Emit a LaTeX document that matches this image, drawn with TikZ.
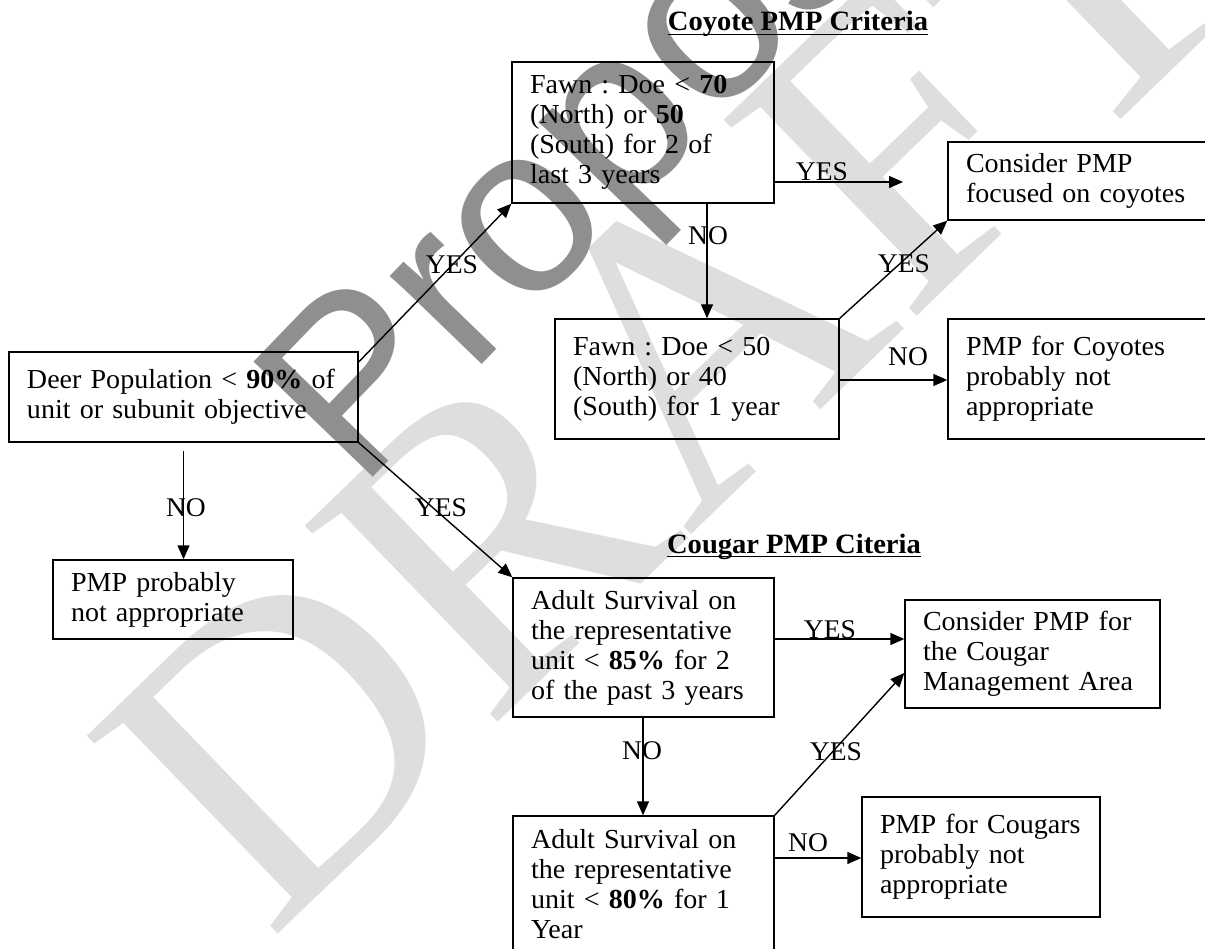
\documentclass[tikz,border=0pt]{standalone}
\usepackage{fontspec}
\setmainfont{Liberation Serif}[FakeStretch=1.02]
\newfontfamily\wmsans{Liberation Sans}
\newfontfamily\wmserif{Liberation Serif}
\usetikzlibrary{arrows.meta}
\definecolor{wmdark}{HTML}{8F8F8F}
\definecolor{wmlight}{HTML}{DEDEDE}
\tikzset{
  box/.style={draw=black, line width=1.4pt, align=left, inner xsep=18pt, inner ysep=0pt,
    font=\fontsize{27.5}{30}\selectfont\frenchspacing, anchor=center},
  lbl/.style={font=\fontsize{27}{30}\selectfont, inner sep=0pt},
  ttl/.style={font=\fontsize{28}{30}\selectfont\bfseries, inner sep=0pt, anchor=base},
  arr/.style={line width=1.4pt, -{Triangle[length=14pt, width=12pt]}}
}
\begin{document}
\begin{tikzpicture}[x=1pt, y=-1pt]
\useasboundingbox (0,0) rectangle (1205,949);
% watermark
\node[rotate=44, anchor=base west, inner sep=0pt, text=wmlight, font=\fontsize{420}{420}\wmserif] (wm2) at (269,943) {DRAFT};
\node[rotate=46, anchor=base west, inner sep=0pt, text=wmdark, font=\fontsize{241}{241}\wmsans] (wm1) at (359,492) {Proposed};
% titles
\node[ttl] (t1) at (798,31) {Coyote PMP Criteria};
\draw[line width=1.8pt] ([yshift=-3.5pt]t1.base west) -- ([yshift=-3.5pt]t1.base east);
\node[ttl] (t2) at (794,553) {Cougar PMP Citeria};
\draw[line width=1.8pt] ([yshift=-3.5pt]t2.base west) -- ([yshift=-3.5pt]t2.base east);
% boxes
\node[box, minimum width=349pt, minimum height=90pt, text width=313pt] (D) at (183.5,397)
  {Deer Population < \textbf{90\%} of\\unit or subunit objective};
\node[box, minimum width=240pt, minimum height=79pt, text width=204pt] (P1) at (173,599.5)
  {PMP probably\\not appropriate};
\node[box, minimum width=262pt, minimum height=141pt, text width=226pt] (F1) at (643,132.5)
  {Fawn : Doe < \textbf{70}\\(North) or \textbf{50}\\(South) for 2 of\\last 3 years};
\node[box, minimum width=262pt, minimum height=78pt, text width=226pt] (C1) at (1079,181)
  {Consider PMP\\focused on coyotes};
\node[box, minimum width=284pt, minimum height=120pt, text width=248pt] (F2) at (697,379)
  {Fawn : Doe < 50\\(North) or 40\\(South) for 1 year};
\node[box, minimum width=262pt, minimum height=120pt, text width=226pt] (C2) at (1079,379)
  {PMP for Coyotes\\probably not\\appropriate};
\node[box, minimum width=261pt, minimum height=139pt, text width=225pt] (A1) at (643.5,647.5)
  {Adult Survival on\\the representative\\unit < \textbf{85\%} for 2\\of the past 3 years};
\node[box, minimum width=255pt, minimum height=108pt, text width=219pt] (K1) at (1032.5,654)
  {Consider PMP for\\the Cougar\\Management Area};
\node[box, minimum width=261pt, minimum height=136pt, text width=225pt] (A2) at (643.5,884)
  {Adult Survival on\\the representative\\unit < \textbf{80\%} for 1\\Year};
\node[box, minimum width=238pt, minimum height=120pt, text width=202pt] (K2) at (981,857)
  {PMP for Cougars\\probably not\\appropriate};
% free end points
\coordinate (e1) at (903,182);
\coordinate (s1) at (183.5,451);
% connectors
\draw[arr] (F1.east |- e1) -- (e1);
\draw[arr] (F1.south -| 707,0) -- (F2.north -| 707,0);
\draw[arr] (F2.north east) -- (C1.south west);
\draw[arr] (F2.east |- 0,380) -- (C2.west |- 0,380);
\draw[arr] (D.east |- 0,362) -- (F1.south west);
\draw[arr] (D.south east) -- (A1.north west);
\draw[arr] (s1) -- (P1.north -| s1);
\draw[arr] (A1.east |- 0,639) -- (K1.west |- 0,639);
\draw[arr] (A1.south -| 643,0) -- (A2.north -| 643,0);
\draw[arr] (A2.north east) -- (K1.west |- 0,673);
\draw[arr] (A2.east |- 0,858) -- (K2.west |- 0,858);
% labels
\node[lbl, anchor=base] (y1) at (822,181) {YES};
\node[lbl] (n1) at (708,236) {NO};
\node[lbl] (y2) at (904,264) {YES};
\node[lbl] (n2) at (908,357) {NO};
\node[lbl] (y3) at (452,265) {YES};
\node[lbl] (y4) at (441,508) {YES};
\node[lbl] (n3) at (186,508) {NO};
\node[lbl, anchor=base] (y5) at (830,638) {YES};
\node[lbl] (n4) at (642,751) {NO};
\node[lbl] (y6) at (836,752) {YES};
\node[lbl] (n5) at (808,843) {NO};
\end{tikzpicture}
\end{document}
